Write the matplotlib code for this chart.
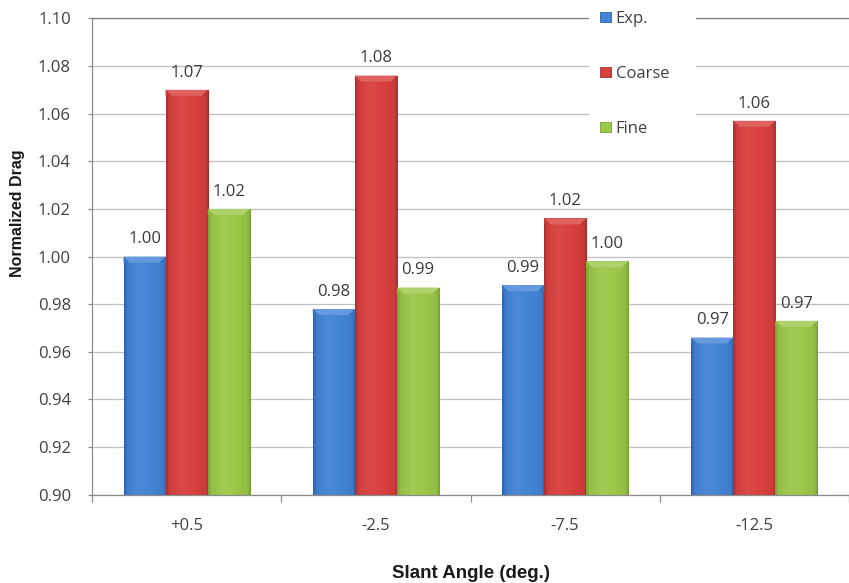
import numpy as np
import matplotlib
matplotlib.use("Agg")
import matplotlib.pyplot as plt
from matplotlib.colors import LinearSegmentedColormap, to_rgb
from matplotlib.patches import Polygon, Rectangle
from matplotlib.ticker import FixedLocator, FormatStrFormatter

# ---- data -------------------------------------------------------------
categories = ["+0.5", "-2.5", "-7.5", "-12.5"]
series_names = ["Exp.", "Coarse", "Fine"]
exp_vals = [1.000, 0.978, 0.988, 0.966]
coarse_vals = [1.070, 1.076, 1.016, 1.057]
fine_vals = [1.020, 0.987, 0.998, 0.973]
y_ticks = [0.90, 0.92, 0.94, 0.96, 0.98, 1.00, 1.02, 1.04, 1.06, 1.08, 1.10]

# ---- style ------------------------------------------------------------
base_colors = ["#4384d5", "#d8403e", "#9cc84a"]
edge_colors = ["#2a5fae", "#a62d2c", "#76a132"]
label_font = "Open Sans"
text_gray = "#404040"
grid_gray = "#bfbfbf"
axis_gray = "#8c8c8c"

W, H = 849, 583
fig = plt.figure(figsize=(W / 100, H / 100), dpi=100)
ax = fig.add_axes([92 / W, 1 - 494.7 / H, 757 / W, 476.3 / H])

y_min, y_max = y_ticks[0], y_ticks[-1]
x = np.arange(len(categories))
bar_w = 1 / 4.5
offsets = [-bar_w, 0.0, bar_w]
series = [exp_vals, coarse_vals, fine_vals]

# pixel-to-data factors used for the bevel facets
px_x = len(categories) / 757
px_y = (y_max - y_min) / 476.3


def mix(c, other, t):
    c = np.array(to_rgb(c))
    o = np.array(to_rgb(other))
    return tuple(c * (1 - t) + o * t)


handles = []
for vals, off, base, edge, name in zip(series, offsets, base_colors,
                                       edge_colors, series_names):
    bars = ax.bar(x + off, np.array(vals) - y_min, width=bar_w, bottom=y_min,
                  color=base, edgecolor="none", zorder=2, label=name)
    cmap = LinearSegmentedColormap.from_list(
        name, [(0.0, edge), (0.07, mix(base, "black", 0.05)),
               (0.35, mix(base, "white", 0.05)), (0.65, base),
               (0.93, mix(base, "black", 0.06)), (1.0, edge)])
    grad = np.linspace(0, 1, 64).reshape(1, -1)
    for rect in bars:
        x0 = rect.get_x()
        x1 = x0 + rect.get_width()
        y0 = rect.get_y()
        top = y0 + rect.get_height()
        im = ax.imshow(grad, extent=[x0, x1, y0, top], aspect="auto",
                       cmap=cmap, interpolation="bicubic", zorder=2.1,
                       origin="lower")
        im.set_clip_path(rect)
        bw, bh = 6 * px_x, 6 * px_y
        # lighter top facet
        ax.add_patch(Polygon([(x0, top), (x1, top), (x1 - bw, top - bh),
                              (x0 + bw, top - bh)], closed=True,
                             facecolor=mix(base, "white", 0.18),
                             edgecolor="none", zorder=2.2))
        # darker corner facets along the top
        ax.add_patch(Polygon([(x0, top), (x0 + bw, top - bh), (x0, top - bh)],
                             closed=True, facecolor=mix(edge, base, 0.6),
                             edgecolor="none", zorder=2.2))
        ax.add_patch(Polygon([(x1, top), (x1 - bw, top - bh), (x1, top - bh)],
                             closed=True, facecolor=mix(edge, base, 0.5),
                             edgecolor="none", zorder=2.2))
        ax.annotate(f"{top:.2f}", xy=(rect.get_x() + rect.get_width() / 2, top),
                    xytext=(0, 9.5), textcoords="offset points",
                    ha="center", va="baseline", fontsize=12,
                    family=label_font, color="#3a3a3a", zorder=5)
    handles.append(Rectangle((0, 0), 1, 1, facecolor=base,
                             edgecolor=edge, linewidth=0.6))

# ---- axes ---------------------------------------------------------------
ax.set_xlim(-0.5, len(categories) - 0.5)
ax.set_ylim(y_min, y_max)
ax.set_axisbelow(True)

ax.yaxis.set_major_locator(FixedLocator(y_ticks))
ax.yaxis.set_major_formatter(FormatStrFormatter("%.2f"))
ax.grid(axis="y", color=grid_gray, linewidth=0.9, zorder=0.5)

ax.set_xticks(x)
ax.set_xticklabels(categories)
ax.set_xticks(np.arange(-0.5, len(categories)), minor=True)
ax.tick_params(axis="x", which="major", length=0, pad=17,
               labelsize=12, labelcolor=text_gray)
ax.tick_params(axis="x", which="minor", length=5, width=0.9,
               color=axis_gray, direction="out")
ax.tick_params(axis="y", length=3.2, width=0.9, color=axis_gray,
               pad=12, labelsize=12, labelcolor=text_gray)
for lab in ax.get_xticklabels() + ax.get_yticklabels():
    lab.set_family(label_font)

ax.spines["right"].set_visible(False)
ax.spines["left"].set_color(axis_gray)
ax.spines["bottom"].set_color(axis_gray)
ax.spines["top"].set_color("#7a7a7a")
for s in ax.spines.values():
    s.set_linewidth(0.9)

ax.set_xlabel("Slant Angle (deg.)", family="Liberation Sans",
              fontweight="bold", fontsize=13.5, color="#1a1a1a", labelpad=22)
ax.set_ylabel("Normalized Drag", family="Liberation Sans", fontweight="bold",
              fontsize=11.5, color="#1a1a1a")
ax.yaxis.set_label_coords(-0.088, 0.591)

# ---- legend -------------------------------------------------------------
ax.add_patch(Rectangle((0.657, 0.73), 0.141, 0.33, transform=ax.transAxes,
                       facecolor="white", edgecolor="none", zorder=3,
                       clip_on=False))
leg = ax.legend(handles, series_names, loc="upper left",
                bbox_to_anchor=(0.671, 1.016), borderaxespad=0, borderpad=0,
                frameon=False, handlelength=0.65, handleheight=0.6,
                handletextpad=0.3, labelspacing=2.34,
                prop={"family": label_font, "size": 12})
for t in leg.get_texts():
    t.set_color(text_gray)
leg.set_zorder(4)

fig.savefig("out.png", dpi=100)
